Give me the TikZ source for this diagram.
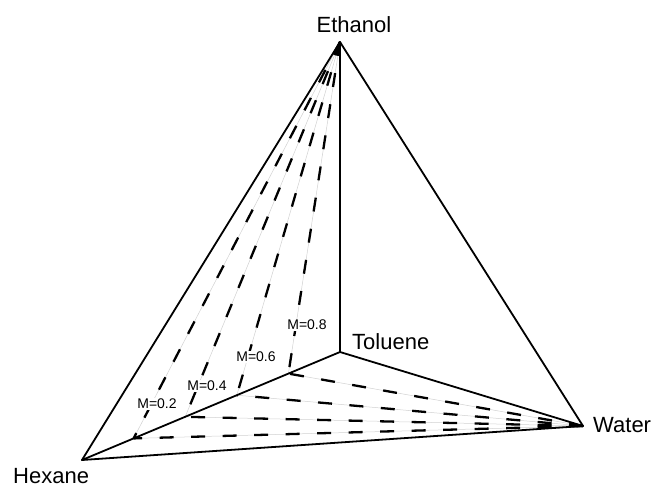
\documentclass[tikz,border=0pt]{standalone}
\usepackage{fontspec}
\setmainfont{Liberation Sans}
\usetikzlibrary{calc}
\usetikzlibrary{positioning}

\begin{document}
\begin{tikzpicture}[x=1pt, y=-1pt]
\tikzstyle{edge} = [line width=1.8pt, line join=round, line cap=round]
\tikzstyle{guide} = [line width=0.5pt, draw=black!18]
\tikzstyle{tie} = [line width=2.3pt, dash pattern=on 14pt off 17.5pt]
\tikzstyle{comp} = [inner sep=0pt, font=\fontsize{22}{26}\selectfont]
\tikzstyle{mlabel} = [fill=white, inner sep=1pt, font=\fontsize{14}{16}\selectfont]

\useasboundingbox (0,0) rectangle (656,487);

% Vertices
\coordinate (eth) at (340,42);
\coordinate (tol) at (340,352);
\coordinate (hex) at (82,460);
\coordinate (wat) at (583,426);

% Points on the hexane-toluene edge
\coordinate (m2) at ($(hex)!0.2!(tol)$);
\coordinate (m4) at ($(hex)!0.4!(tol)$);
\coordinate (m6) at ($(hex)!0.6!(tol)$);
\coordinate (m8) at ($(hex)!0.8!(tol)$);

% Guide lines
\draw[guide] (eth) -- (m2);
\draw[guide] (eth) -- (m4);
\draw[guide] (eth) -- (m6);
\draw[guide] (eth) -- (m8);
\draw[guide] (wat) -- (m2);
\draw[guide] (wat) -- (m4);
\draw[guide] (wat) -- (m6);
\draw[guide] (wat) -- (m8);

% Dashed lines
\draw[tie] (eth) -- (m2);
\draw[tie] (eth) -- (m4);
\draw[tie] (eth) -- (m6);
\draw[tie] (eth) -- (m8);
\draw[tie] (wat) -- (m2);
\draw[tie] (wat) -- (m4);
\draw[tie] (wat) -- (m6);
\draw[tie] (wat) -- (m8);

% Edges
\draw[edge] (eth) -- (hex);
\draw[edge] (eth) -- (wat);
\draw[edge] (eth) -- (tol);
\draw[edge] (hex) -- (tol);
\draw[edge] (tol) -- (wat);
\draw[edge] (hex) -- (wat);

% Labels
\node (ethanol) [comp, anchor=base] at (354,33) {Ethanol};
\node (toluene) [comp, anchor=base west] at (352,349) {Toluene};
\node (water) [comp, anchor=base west] at (593,432) {Water};
\node (hexane) [comp, anchor=base west] at (13,483) {Hexane};

\node (lab2) [mlabel] at (157,404) {M=0.2};
\node (lab4) [mlabel] at (207,386) {M=0.4};
\node (lab6) [mlabel] at (256,357) {M=0.6};
\node (lab8) [mlabel] at (307,325) {M=0.8};
\end{tikzpicture}
\end{document}
